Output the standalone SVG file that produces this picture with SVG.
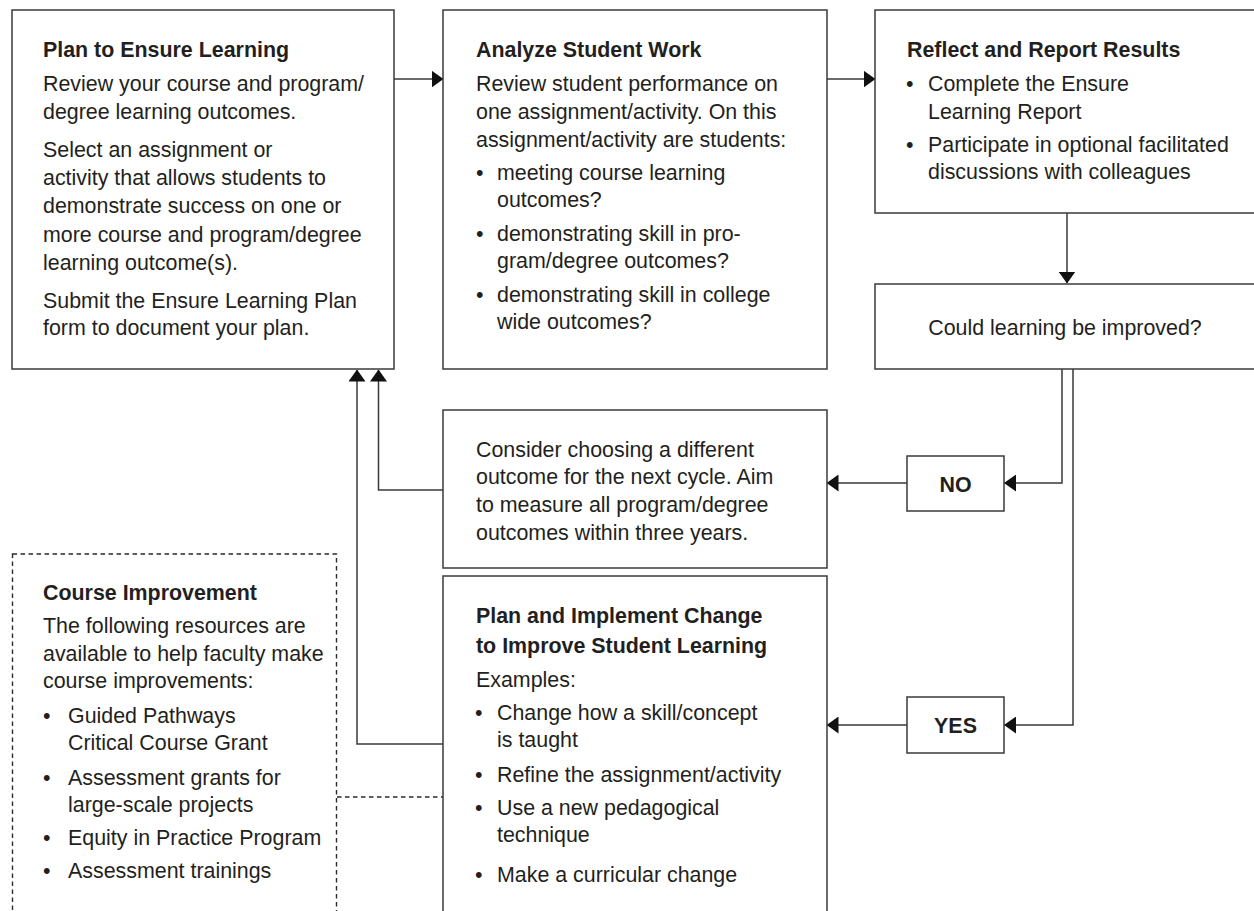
<svg xmlns="http://www.w3.org/2000/svg" width="1254" height="911" viewBox="0 0 1254 911">
  <style>
    .box { fill: #ffffff; stroke: #3a3a3a; stroke-width: 1.5; }
    .dash { fill: none; stroke: #2a2a2a; stroke-width: 1.4; stroke-dasharray: 4.5 3.5; }
    .wire { fill: none; stroke: #3a3a3a; stroke-width: 1.5; }
    text { font-family: "Liberation Sans", Arial, sans-serif; font-size: 21.4px; fill: #231f20; }
    .hd { font-weight: bold; }
    .mid { text-anchor: middle; }
  </style>
  <defs>
    <marker id="head" markerUnits="userSpaceOnUse" markerWidth="12" markerHeight="17" refX="11.5" refY="8.5" orient="auto">
      <path d="M0,0 L12,8.5 L0,17 z" fill="#111111"/>
    </marker>
  </defs>
  <rect width="1254" height="911" fill="#ffffff"/>

  <!-- connectors -->
  <g id="connectors">
    <path class="wire" d="M394,79 H443" marker-end="url(#head)"/>
    <path class="wire" d="M827,79 H875" marker-end="url(#head)"/>
    <path class="wire" d="M1067,213 V283" marker-end="url(#head)"/>
    <path class="wire" d="M1062,369 V483 H1004.5" marker-end="url(#head)"/>
    <path class="wire" d="M1073,369 V725 H1004.5" marker-end="url(#head)"/>
    <path class="wire" d="M907,483 H827" marker-end="url(#head)"/>
    <path class="wire" d="M907,725 H827" marker-end="url(#head)"/>
    <path class="wire" d="M443,490 H378.5 V370" marker-end="url(#head)"/>
    <path class="wire" d="M443,744 H357 V370" marker-end="url(#head)"/>
    <path class="dash" d="M337,797 H443"/>
  </g>

  <!-- plan step -->
  <g id="plan">
    <rect class="box" x="12" y="10" width="382" height="359"/>
    <text class="hd" x="43" y="57">Plan to Ensure Learning</text>
    <text x="43" y="91">Review your course and program/</text>
    <text x="43" y="119">degree learning outcomes.</text>
    <text x="43" y="157">Select an assignment or</text>
    <text x="43" y="185">activity that allows students to</text>
    <text x="43" y="213">demonstrate success on one or</text>
    <text x="43" y="242">more course and program/degree</text>
    <text x="43" y="270">learning outcome(s).</text>
    <text x="43" y="308">Submit the Ensure Learning Plan</text>
    <text x="43" y="335">form to document your plan.</text>
  </g>

  <!-- analysis step -->
  <g id="analyze">
    <rect class="box" x="443" y="10" width="384" height="359"/>
    <text class="hd" x="476" y="57">Analyze Student Work</text>
    <text x="476" y="91">Review student performance on</text>
    <text x="476" y="119">one assignment/activity. On this</text>
    <text x="476" y="147">assignment/activity are students:</text>
    <text x="476" y="180">•</text>
    <text x="497" y="180">meeting course learning</text>
    <text x="497" y="207">outcomes?</text>
    <text x="476" y="241">•</text>
    <text x="497" y="241">demonstrating skill in pro-</text>
    <text x="497" y="268">gram/degree outcomes?</text>
    <text x="476" y="302">•</text>
    <text x="497" y="302">demonstrating skill in college</text>
    <text x="497" y="329">wide outcomes?</text>
  </g>

  <!-- reporting step -->
  <g id="reflect">
    <rect class="box" x="875" y="10" width="390" height="203"/>
    <text class="hd" x="907" y="57">Reflect and Report Results</text>
    <text x="906" y="91">•</text>
    <text x="928" y="91">Complete the Ensure</text>
    <text x="928" y="119">Learning Report</text>
    <text x="906" y="152">•</text>
    <text x="928" y="152">Participate in optional facilitated</text>
    <text x="928" y="179">discussions with colleagues</text>
  </g>

  <!-- decision -->
  <g id="decision">
    <rect class="box" x="875" y="284" width="390" height="85"/>
    <text class="mid" x="1065" y="335">Could learning be improved?</text>
  </g>

  <g id="no">
    <rect class="box" x="907" y="456" width="97" height="55"/>
    <text class="hd mid" x="955.5" y="492">NO</text>
  </g>

  <g id="yes">
    <rect class="box" x="907" y="697" width="97" height="56"/>
    <text class="hd mid" x="955.5" y="733">YES</text>
  </g>

  <!-- next-cycle note -->
  <g id="consider">
    <rect class="box" x="443" y="410" width="384" height="158"/>
    <text x="476" y="457">Consider choosing a different</text>
    <text x="476" y="484">outcome for the next cycle. Aim</text>
    <text x="476" y="512">to measure all program/degree</text>
    <text x="476" y="540">outcomes within three years.</text>
  </g>

  <!-- change step -->
  <g id="change">
    <rect class="box" x="443" y="576" width="384" height="350"/>
    <text class="hd" x="476" y="623">Plan and Implement Change</text>
    <text class="hd" x="476" y="653">to Improve Student Learning</text>
    <text x="476" y="687">Examples:</text>
    <text x="475" y="720">•</text>
    <text x="497" y="720">Change how a skill/concept</text>
    <text x="497" y="747">is taught</text>
    <text x="475" y="782">•</text>
    <text x="497" y="782">Refine the assignment/activity</text>
    <text x="475" y="815">•</text>
    <text x="497" y="815">Use a new pedagogical</text>
    <text x="497" y="842">technique</text>
    <text x="475" y="882">•</text>
    <text x="497" y="882">Make a curricular change</text>
  </g>

  <!-- resources panel -->
  <g id="course-improvement">
    <rect class="dash" x="12.5" y="554" width="324" height="370"/>
    <text class="hd" x="43" y="600">Course Improvement</text>
    <text x="43" y="633">The following resources are</text>
    <text x="43" y="661">available to help faculty make</text>
    <text x="43" y="688">course improvements:</text>
    <text x="43" y="723">•</text>
    <text x="68" y="723">Guided Pathways</text>
    <text x="68" y="750">Critical Course Grant</text>
    <text x="43" y="785">•</text>
    <text x="68" y="785">Assessment grants for</text>
    <text x="68" y="812">large-scale projects</text>
    <text x="43" y="845">•</text>
    <text x="68" y="845">Equity in Practice Program</text>
    <text x="43" y="878">•</text>
    <text x="68" y="878">Assessment trainings</text>
  </g>
</svg>
